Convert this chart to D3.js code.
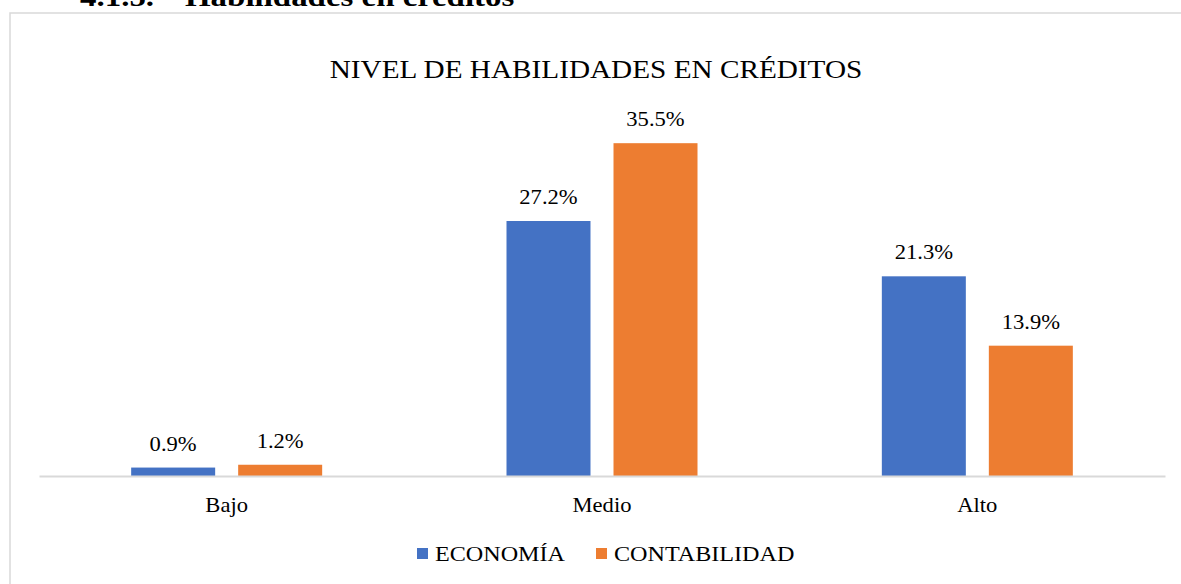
<!DOCTYPE html>
<html>
<head>
<meta charset="utf-8">
<script src="https://cdn.jsdelivr.net/npm/d3@7"></script>
<style>
  body { margin: 0; background: #fff; }
  svg text { font-family: "Liberation Serif", "Times New Roman", serif; fill: #000; }
</style>
</head>
<body>
<svg id="chart" width="1181" height="584"></svg>
<script>
// datos del gráfico
var categorias = ["Bajo", "Medio", "Alto"];
var series = ["ECONOMÍA", "CONTABILIDAD"];
var economia = [0.9, 27.2, 21.3];
var contabilidad = [1.2, 35.5, 13.9];
var colores = ["#4472c4", "#ed7d31"];
var titulo = "NIVEL DE HABILIDADES EN CRÉDITOS";

var valores = [economia, contabilidad];
var svg = d3.select("#chart");
var sx = 1.13; // el original está algo estirado a lo ancho

function texto(sel, cx, k) {
  // estira el texto horizontalmente alrededor de cx
  return sel.attr("transform", "translate(" + cx + ",0) scale(" + (k || sx) + ",1) translate(" + (-cx) + ",0)");
}

// encabezado cortado arriba
texto(svg.append("text")
  .attr("x", 80).attr("y", 6)
  .attr("font-size", 27).attr("font-weight", "bold")
  .text("4.1.5."), 80, 1.22);
texto(svg.append("text")
  .attr("x", 185).attr("y", 6)
  .attr("font-size", 27).attr("font-weight", "bold")
  .text("Habilidades en créditos"), 185, 1.22);

// marco del gráfico
svg.append("rect")
  .attr("x", 10).attr("y", 13)
  .attr("width", 1190).attr("height", 600)
  .attr("fill", "#fff").attr("stroke", "#d9d9d9").attr("stroke-width", 1.5);

// escalas
var x0 = d3.scaleBand().domain(categorias).range([39, 1165]);
var x1 = d3.scaleBand().domain(series)
  .range([(x0.bandwidth() - 191) / 2, (x0.bandwidth() + 191) / 2])
  .paddingInner(0.215);
var y = d3.scaleLinear().domain([0, 40]).range([476, 101]);

// título
texto(svg.append("text")
  .attr("x", 596).attr("y", 78)
  .attr("text-anchor", "middle")
  .attr("font-size", 26)
  .text(titulo), 596, 1.125);

// barras
var grupos = svg.selectAll("g.grupo")
  .data(categorias)
  .enter().append("g")
  .attr("class", "grupo")
  .attr("transform", function(d) { return "translate(" + x0(d) + ",0)"; });

grupos.selectAll("rect")
  .data(function(d, i) {
    return series.map(function(s, j) { return { s: s, v: valores[j][i], c: colores[j] }; });
  })
  .enter().append("rect")
  .attr("x", function(d) { return x1(d.s); })
  .attr("y", function(d) { return y(d.v); })
  .attr("width", x1.bandwidth())
  .attr("height", function(d) { return y(0) - y(d.v); })
  .attr("fill", function(d) { return d.c; });

grupos.selectAll("text.etiqueta")
  .data(function(d, i) {
    return series.map(function(s, j) { return { s: s, v: valores[j][i] }; });
  })
  .enter().append("text")
  .attr("class", "etiqueta")
  .attr("text-anchor", "middle")
  .attr("font-size", 20)
  .attr("x", function(d) { return x1(d.s) + x1.bandwidth() / 2; })
  .attr("y", function(d) { return y(d.v) - 17; })
  .attr("transform", function(d) {
    var cx = x1(d.s) + x1.bandwidth() / 2;
    return "translate(" + cx + ",0) scale(" + sx + ",1) translate(" + (-cx) + ",0)";
  })
  .text(function(d) { return d.v.toFixed(1) + "%"; });

// eje x
var eje = svg.append("g")
  .attr("transform", "translate(0," + y(0) + ")")
  .call(d3.axisBottom(x0).tickSize(0).tickPadding(0));
eje.select(".domain").attr("stroke", "#d9d9d9").attr("stroke-width", 2);
eje.selectAll(".tick text")
  .attr("font-size", 20)
  .attr("font-family", "Liberation Serif, Times New Roman, serif")
  .attr("fill", "#000")
  .attr("dy", null)
  .attr("y", 36)
  .attr("transform", "scale(" + sx + ",1)");

// leyenda
var leyX = [417, 596];
series.forEach(function(s, j) {
  svg.append("rect")
    .attr("x", leyX[j]).attr("y", 548)
    .attr("width", 11).attr("height", 11)
    .attr("fill", colores[j]);
  texto(svg.append("text")
    .attr("x", leyX[j] + 18).attr("y", 561)
    .attr("font-size", 21)
    .text(s), leyX[j] + 18, 1.15);
});
</script>
</body>
</html>
